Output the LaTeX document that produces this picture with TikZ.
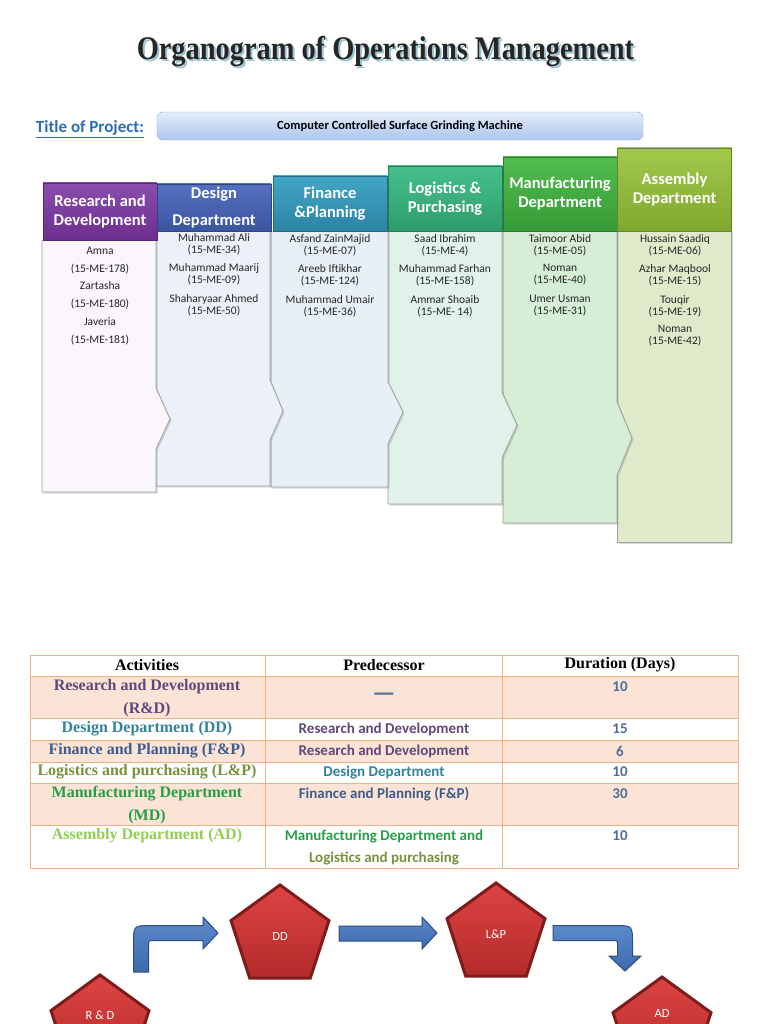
\documentclass[tikz,border=0pt]{standalone}
\usepackage{fontspec}
\setmainfont{Carlito}
\newfontfamily\titlefont[FakeStretch=0.86]{Liberation Serif}
\newfontfamily\tablefont{Liberation Serif}
\usetikzlibrary{shapes,arrows,shadows}

\definecolor{titleshade}{HTML}{9CC3D4}
\definecolor{projblue}{HTML}{2E6DB5}
\definecolor{projtop}{HTML}{E3ECFA}\definecolor{projbot}{HTML}{ABC6EF}\definecolor{projline}{HTML}{8FAAD6}
\definecolor{bodyline}{HTML}{A0A0A0}
\definecolor{peach}{HTML}{FBE4D5}
\definecolor{orangeline}{HTML}{F4B183}
\definecolor{rdcol}{HTML}{5F497A}
\definecolor{ddcol}{HTML}{31849B}
\definecolor{fpcol}{HTML}{3E5C8E}
\definecolor{lpcol}{HTML}{77933C}
\definecolor{mdcol}{HTML}{25A04A}
\definecolor{adcol}{HTML}{92CF51}
\definecolor{durcol}{HTML}{4F6D9A}
% header colours
\definecolor{rdtop}{HTML}{8A4DAE}\definecolor{rdbot}{HTML}{6C2F8E}
\definecolor{ddtop}{HTML}{5670C0}\definecolor{ddbot}{HTML}{3B55A0}
\definecolor{fptop}{HTML}{43A6C6}\definecolor{fpbot}{HTML}{2B84A4}
\definecolor{lptop}{HTML}{46C08C}\definecolor{lpbot}{HTML}{2E9C6A}
\definecolor{mdtop}{HTML}{52BC4E}\definecolor{mdbot}{HTML}{379B37}
\definecolor{adtop}{HTML}{A2C94A}\definecolor{adbot}{HTML}{80A830}
% body colours
\definecolor{rdbody}{HTML}{FAF6FC}
\definecolor{ddbody}{HTML}{ECF0F8}
\definecolor{fpbody}{HTML}{E8F0F7}
\definecolor{lpbody}{HTML}{E0F2EA}
\definecolor{mdbody}{HTML}{D6EDD6}
\definecolor{adbody}{HTML}{DFEACB}
% flow colours
\definecolor{penttop}{HTML}{DC4442}\definecolor{pentbot}{HTML}{B42B2B}\definecolor{pentline}{HTML}{7E1C1C}
\definecolor{arrtop}{HTML}{5A89CC}\definecolor{arrmid}{HTML}{A9C6EC}\definecolor{arrbot}{HTML}{3D6AAD}\definecolor{arrline}{HTML}{2C4F7E}

\begin{document}
\begin{tikzpicture}[x=1pt, y=-1pt]
\tikzstyle{header}=[rectangle, minimum width=114pt, inner sep=2pt, align=center, text=white, font=\bfseries\fontsize{16.5}{19}\selectfont]
\tikzstyle{bodystyle}=[draw=bodyline, line width=0.8pt, drop shadow={shadow xshift=1.5pt, shadow yshift=-1.5pt, opacity=0.3}]
\tikzstyle{member}=[align=center, inner sep=0pt, text=black!85, font=\fontsize{11.5}{12}\selectfont]
\tikzstyle{tableline}=[draw=orangeline, line width=0.9pt]
\tikzstyle{thead}=[inner sep=0pt, font=\tablefont\bfseries\fontsize{16}{22}\selectfont]
\tikzstyle{tcell}=[inner sep=0pt, align=center, font=\tablefont\bfseries\fontsize{16}{22.5}\selectfont]
\tikzstyle{pcell}=[inner sep=0pt, align=center, font=\bfseries\fontsize{15}{22}\selectfont]
\tikzstyle{pent}=[regular polygon, regular polygon sides=5, minimum size=103pt, inner sep=0pt, top color=penttop, bottom color=pentbot, draw=pentline, line width=3pt, text=white, font=\fontsize{12.5}{14}\selectfont]
\tikzstyle{blockarrow}=[draw=arrline, line width=1pt, top color=arrtop, middle color=arrmid, bottom color=arrbot]

\useasboundingbox (0,0) rectangle (768,1024);
\fill[white] (0,0) rectangle (768,1024);

% title
\node[text=titleshade, font=\titlefont\bfseries\fontsize{33}{36}\selectfont] (T0s) at (387.5,53.5) {Organogram of Operations Management};
\node[text=black!85, font=\titlefont\bfseries\fontsize{33}{36}\selectfont] (T0) at (385.5,51.5) {Organogram of Operations Management};
\node[text=projblue, font=\bfseries\fontsize{17}{20}\selectfont] (T1) at (90,129) {\underline{Title of Project:}};
\node[rectangle, rounded corners=6pt, minimum width=486pt, minimum height=28pt, top color=projtop, bottom color=projbot, draw=projline, font=\bfseries\fontsize{12.5}{14}\selectfont] (T2) at (400,126) {Computer Controlled Surface Grinding Machine};

% column bodies
\draw[bodystyle, fill=adbody] (617,231) -- (731,231) -- (731,542) -- (617,542) -- cycle;
\draw[bodystyle, fill=mdbody] (503,231) -- (617,231) -- (617,402) -- (632,438) -- (617,475) -- (617,523) -- (503,523) -- cycle;
\draw[bodystyle, fill=lpbody] (388,231) -- (502,231) -- (502,392) -- (517,425) -- (502,458) -- (502,504) -- (388,504) -- cycle;
\draw[bodystyle, fill=fpbody] (271,231) -- (388,231) -- (388,382) -- (403,412) -- (388,444) -- (388,487) -- (271,487) -- cycle;
\draw[bodystyle, fill=ddbody] (156,231) -- (270,231) -- (270,380) -- (283,411) -- (270,440) -- (270,486) -- (156,486) -- cycle;
\draw[bodystyle, fill=rdbody] (42,240) -- (156,240) -- (156,388) -- (170,419) -- (156,449) -- (156,492) -- (42,492) -- cycle;

% column headers
\node[header, minimum height=57pt, top color=rdtop, bottom color=rdbot, draw=rdbot!80!black] (C1x0) at (100,211.5) {Research and\\Development};
\node[header, minimum height=47pt, top color=ddtop, bottom color=ddbot, draw=ddbot!80!black] (C2x0) at (214,207.5) {Design\\[8pt]Department};
\node[header, minimum height=55pt, top color=fptop, bottom color=fpbot, draw=fpbot!80!black] (C3x0) at (330,203.5) {Finance\\\&Planning};
\node[header, minimum height=65pt, top color=lptop, bottom color=lpbot, draw=lpbot!80!black] (C4x0) at (445,198.5) {Logistics \&\\Purchasing};
\node[header, minimum height=74pt, top color=mdtop, bottom color=mdbot, draw=mdbot!80!black] (C5x0) at (560,194) {Manufacturing\\Department};
\node[header, minimum height=83pt, top color=adtop, bottom color=adbot, draw=adbot!80!black] (C6x0) at (674.5,189.5) {Assembly\\Department};

% members
\node[member, font=\fontsize{11.5}{17.8}\selectfont] (C1x1) at (100,296) {Amna\\(15-ME-178)\\Zartasha\\(15-ME-180)\\Javeria\\(15-ME-181)};
\node[member] (C2x1) at (214,244) {Muhammad Ali\\(15-ME-34)};
\node[member] (C2x2) at (214,274) {Muhammad Maarij\\(15-ME-09)};
\node[member] (C2x3) at (214,305) {Shaharyaar Ahmed\\(15-ME-50)};
\node[member] (C3x1) at (330,245) {Asfand ZainMajid\\(15-ME-07)};
\node[member] (C3x2) at (330,275) {Areeb Iftikhar\\(15-ME-124)};
\node[member] (C3x3) at (330,306) {Muhammad Umair\\(15-ME-36)};
\node[member] (C4x1) at (445,245) {Saad Ibrahim\\(15-ME-4)};
\node[member] (C4x2) at (445,275) {Muhammad Farhan\\(15-ME-158)};
\node[member] (C4x3) at (445,306) {Ammar Shoaib\\(15-ME- 14)};
\node[member] (C5x1) at (560,245) {Taimoor Abid\\(15-ME-05)};
\node[member] (C5x2) at (560,275) {Noman\\(15-ME-40)};
\node[member] (C5x3) at (560,306) {Umer Usman\\(15-ME-31)};
\node[member] (C6x1) at (675,245) {Hussain Saadiq\\(15-ME-06)};
\node[member] (C6x2) at (675,275) {Azhar Maqbool\\(15-ME-15)};
\node[member] (C6x3) at (675,306) {Touqir\\(15-ME-19)};
\node[member] (C6x4) at (675,336) {Noman\\(15-ME-42)};

% table
\fill[peach] (30,676) rectangle (738,718);
\fill[peach] (30,740) rectangle (738,762);
\fill[peach] (30,783) rectangle (738,825);
\foreach \y in {676,718,740,762,783,825}
  \draw[tableline] (30,\y) -- (738,\y);
\draw[tableline] (265,655) -- (265,868);
\draw[tableline] (502,655) -- (502,868);
\draw[tableline] (30,655) rectangle (738,868);

\node[thead] (R0x0) at (147,665) {Activities};
\node[thead] (R0x1) at (384,665) {Predecessor};
\node[thead] (R0x2) at (620,665) {Duration (Days)};

\node[tcell, text=rdcol] (R1x0) at (147,698) {Research and Development\\(R\&D)};
\node[pcell, text=durcol!70!gray, anchor=base, font=\bfseries\fontsize{26}{26}\selectfont] (R1x1) at (384,701) {—};
\node[pcell, text=durcol] (R1x2) at (620,687) {10};

\node[tcell, text=ddcol] (R2x0) at (147,729) {Design Department (DD)};
\node[pcell, text=rdcol] (R2x1) at (384,729) {Research and Development};
\node[pcell, text=durcol] (R2x2) at (620,729) {15};

\node[tcell, text=fpcol] (R3x0) at (147,751) {Finance and Planning (F\&P)};
\node[pcell, text=rdcol] (R3x1) at (384,751) {Research and Development};
\node[pcell, text=durcol] (R3x2) at (620,751) {6};

\node[tcell, text=lpcol] (R4x0) at (147,772) {Logistics and purchasing (L\&P)};
\node[pcell, text=ddcol] (R4x1) at (384,772) {Design Department};
\node[pcell, text=durcol] (R4x2) at (620,772) {10};

\node[tcell, text=mdcol] (R5x0) at (147,805) {Manufacturing Department\\(MD)};
\node[pcell, text=fpcol] (R5x1) at (384,794) {Finance and Planning (F\&P)};
\node[pcell, text=durcol] (R5x2) at (620,794) {30};

\node[tcell, text=adcol] (R6x0) at (147,836) {Assembly Department (AD)};
\node[pcell, text=mdcol] (R6x1) at (384,836) {Manufacturing Department and};
\node[pcell, text=lpcol] (R6x2) at (384,858) {Logistics and purchasing};
\node[pcell, text=durcol] (R6x3) at (620,836) {10};

% flow
\node[pent] (P0) at (100,1026.5) {};
\node[text=white, font=\fontsize{12.5}{14}\selectfont] (P0x) at ([yshift=11.5pt]P0.center) {R \& D};
\node[pent] (P1) at (280,936.5) {DD};
\node[pent] (P2) at (496,934.5) {L\&P};
\node[pent] (P3) at (662,1028.5) {};
\node[text=white, font=\fontsize{12.5}{14}\selectfont] (P3x) at ([yshift=15pt]P3.center) {AD};

\draw[blockarrow] (133.5,972) -- (133.5,943.5) .. controls (133.5,925.5) .. (151.5,925.5) -- (203,925.5) -- (203,917) -- (218,933) -- (203,949) -- (203,940.5) -- (153,940.5) .. controls (148.5,940.5) .. (148.5,945) -- (148.5,972) -- cycle;
\draw[blockarrow] (339,926) -- (422,926) -- (422,917) -- (437,933) -- (422,949) -- (422,941) -- (339,941) -- cycle;
\draw[blockarrow] (553,925.5) -- (614.5,925.5) .. controls (632.5,925.5) .. (632.5,943.5) -- (632.5,956) -- (641,956) -- (625,971) -- (609,956) -- (617.5,956) -- (617.5,945) .. controls (617.5,940.5) .. (613,940.5) -- (553,940.5) -- cycle;
\end{tikzpicture}
\end{document}
